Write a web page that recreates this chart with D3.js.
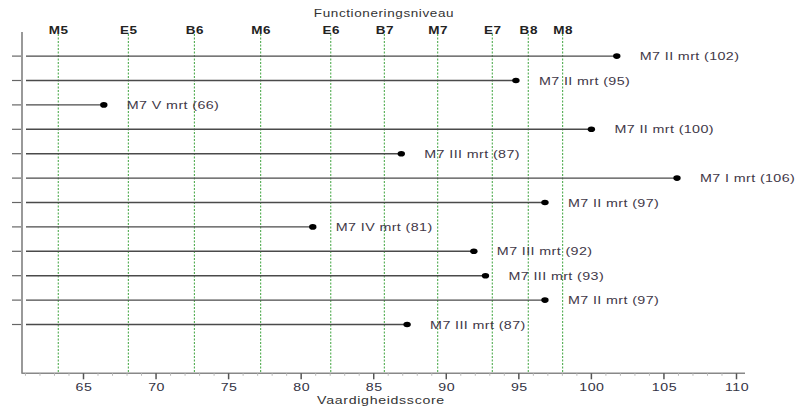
<!DOCTYPE html>
<html>
<head>
<meta charset="utf-8">
<script src="https://cdn.jsdelivr.net/npm/d3@7"></script>
<style>
  html, body { margin: 0; padding: 0; background: #fff; }
  svg { display: block; font-family: "Liberation Sans", Arial, sans-serif; }
</style>
</head>
<body>
<svg id="chart" width="798" height="408"></svg>
<script>
// ---- data ----
const rowLabels = ["M7 II mrt", "M7 II mrt", "M7 V mrt", "M7 II mrt", "M7 III mrt", "M7 I mrt",
                   "M7 II mrt", "M7 IV mrt", "M7 III mrt", "M7 III mrt", "M7 II mrt", "M7 III mrt"];
const scoreLabels = [102, 95, 66, 100, 87, 106, 97, 81, 92, 93, 97, 87];
const scoreValues = [101.75, 94.8, 66.4, 100, 86.9, 105.9, 96.8, 80.8, 91.9, 92.7, 96.8, 87.3];
const levels = ["M5", "E5", "B6", "M6", "E6", "B7", "M7", "E7", "B8", "M8"];
const levelScores = [63.26, 68.09, 72.64, 77.21, 82.04, 85.73, 89.41, 93.17, 95.65, 98.02];
const xTicks = [65, 70, 75, 80, 85, 90, 95, 100, 105, 110];
const titleTop = "Functioneringsniveau";
const titleBottom = "Vaardigheidsscore";

const SX = 1.35; // horizontal stretch of the original rendering
const svg = d3.select("#chart");
const x = d3.scaleLinear().domain([65, 110]).range([83.5, 736.5]);
const xMin = x.invert(22), xMax = x.invert(745);
const y = d3.scaleLinear().domain([0, 14]).range([31.7, 373.3]);
const axisY = y(14);

function stretched(sel, fx, fy, sx) {
  return sel.attr("transform", (d, i) => `translate(${fx(d, i)},${fy(d, i)}) scale(${sx},1)`);
}

// green level lines
svg.append("g").selectAll("line").data(levelScores).join("line")
  .attr("x1", d => x(d)).attr("x2", d => x(d))
  .attr("y1", 34).attr("y2", axisY)
  .attr("stroke", "#3da33d").attr("stroke-width", 1)
  .attr("stroke-dasharray", "2,1.5");

// level labels
stretched(svg.append("g").selectAll("text").data(levels).join("text"),
    (d, i) => x(levelScores[i]) + 0.5, () => 34, SX)
  .attr("text-anchor", "middle")
  .attr("font-size", 10).attr("font-weight", "bold")
  .attr("letter-spacing", 0.4)
  .attr("fill", "#222")
  .text(d => d);

// row lines
const rows = svg.append("g");
rows.selectAll("line").data(scoreValues).join("line")
  .attr("x1", 26).attr("x2", d => x(d))
  .attr("y1", (d, i) => y(i + 1)).attr("y2", (d, i) => y(i + 1))
  .attr("stroke", "#4a4a4a").attr("stroke-width", 1.4);

// y ticks
svg.append("g").selectAll("line").data(scoreValues).join("line")
  .attr("x1", 12).attr("x2", 22)
  .attr("y1", (d, i) => y(i + 1)).attr("y2", (d, i) => y(i + 1))
  .attr("stroke", "#666").attr("stroke-width", 1.2);

// dots
rows.selectAll("ellipse").data(scoreValues).join("ellipse")
  .attr("cx", d => x(d)).attr("cy", (d, i) => y(i + 1))
  .attr("rx", 3.7).attr("ry", 2.8)
  .attr("fill", "#000");

// row labels
stretched(rows.selectAll("text").data(scoreValues).join("text"),
    d => x(d) + 23, (d, i) => y(i + 1) + 4, 1.3)
  .attr("font-size", 11)
  .attr("letter-spacing", 0.3)
  .attr("fill", "#3f3848")
  .text((d, i) => `${rowLabels[i]} (${scoreLabels[i]})`);

// y axis line
svg.append("line")
  .attr("x1", 22).attr("x2", 22).attr("y1", 32).attr("y2", axisY + 0.5)
  .attr("stroke", "#999").attr("stroke-width", 2);

// x axis
const xAxis = svg.append("g");
xAxis.append("line")
  .attr("x1", 22).attr("x2", 745).attr("y1", axisY).attr("y2", axisY)
  .attr("stroke", "#888").attr("stroke-width", 1.5);
const minor = d3.range(Math.ceil(xMin), Math.floor(xMax) + 1).filter(v => !xTicks.includes(v));
xAxis.selectAll("line.minor").data(minor).join("line").attr("class", "minor")
  .attr("x1", d => x(d)).attr("x2", d => x(d))
  .attr("y1", axisY).attr("y2", axisY + 2.5)
  .attr("stroke", "#bbb").attr("stroke-width", 1);
xAxis.selectAll("line.major").data(xTicks).join("line").attr("class", "major")
  .attr("x1", d => x(d)).attr("x2", d => x(d))
  .attr("y1", axisY).attr("y2", axisY + 6)
  .attr("stroke", "#555").attr("stroke-width", 1.5);
stretched(xAxis.selectAll("text").data(xTicks).join("text"),
    d => x(d) + 0.5, () => 391, SX)
  .attr("text-anchor", "middle")
  .attr("font-size", 10.5).attr("letter-spacing", 0.4)
  .attr("fill", "#334")
  .text(d => d);

// titles
svg.append("text").attr("transform", `translate(384,17) scale(${SX},1)`)
  .attr("text-anchor", "middle").attr("font-size", 10).attr("letter-spacing", 0.45)
  .attr("fill", "#333").text(titleTop);
svg.append("text").attr("transform", `translate(381,404) scale(${SX},1)`)
  .attr("text-anchor", "middle").attr("font-size", 10.5).attr("letter-spacing", 0.5)
  .attr("fill", "#333").text(titleBottom);
</script>
</body>
</html>
